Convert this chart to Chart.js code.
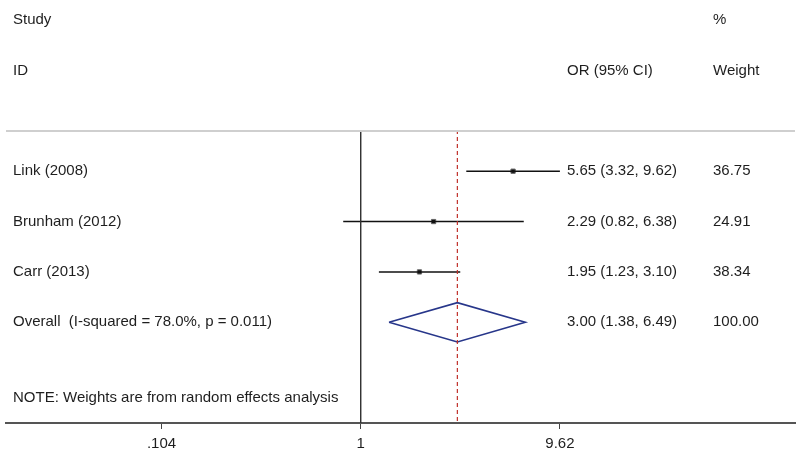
<!DOCTYPE html>
<html>
<head>
<meta charset="utf-8">
<script src="https://cdn.jsdelivr.net/npm/chart.js@4/dist/chart.umd.min.js"></script>
<style>
  html,body{margin:0;padding:0;background:#fff}
  #wrap{width:800px;height:455px;position:relative}
</style>
</head>
<body>
<div id="wrap"><canvas id="c" width="800" height="455"></canvas></div>
<script>
// study data
var studies  = ['Link (2008)', 'Brunham (2012)', 'Carr (2013)'];
var orEst    = [5.65, 2.29, 1.95];
var ciLow    = [3.32, 0.82, 1.23];
var ciHigh   = [9.62, 6.38, 3.10];
var weights  = [36.75, 24.91, 38.34];

var overallLabel = 'Overall  (I-squared = 78.0%, p = 0.011)';
var overallEst = 3.00, overallLow = 1.38, overallHigh = 6.49, overallWeight = 100.00;

var xTicks      = [0.104, 1, 9.62];
var xTickLabels = ['.104', '1', '9.62'];
var noteText = 'NOTE: Weights are from random effects analysis';

var xMin = 0.01777, xMax = 139.1;
var lineRow = 0.2, bottomRow = 6;
var FONT = '"Liberation Sans", Arial, sans-serif';

function fmt(v){ return v.toFixed(2) }

var datasets = [];
// top separator
datasets.push({type:'line', data:[{x:xMin,y:lineRow},{x:xMax,y:lineRow}], borderColor:'#cfcfcf', borderWidth:2, pointRadius:0});
// null line
datasets.push({type:'line', data:[{x:1,y:lineRow},{x:1,y:bottomRow}], borderColor:'#333', borderWidth:1, pointRadius:0});
// overall estimate dashed line
datasets.push({type:'line', data:[{x:overallEst,y:lineRow - 0.02},{x:overallEst,y:bottomRow}], borderColor:'#c0302a', borderWidth:1.2, borderDash:[4,3], pointRadius:0});
// CI lines
studies.forEach(function(s, i){
  datasets.push({type:'line', data:[{x:ciLow[i],y:i+1},{x:ciHigh[i],y:i+1}], borderColor:'#111', borderWidth:1.5, pointRadius:0});
});
// point estimates
datasets.push({type:'scatter', data:orEst.map(function(v,i){ return {x:v,y:i+1} }), pointStyle:'rect', pointRadius:3, backgroundColor:'#111', borderColor:'#666', borderWidth:1});
// overall diamond
var oy = studies.length + 1, dh = 0.39;
datasets.push({type:'line', data:[{x:overallLow,y:oy},{x:overallEst,y:oy-dh},{x:overallHigh,y:oy},{x:overallEst,y:oy+dh},{x:overallLow,y:oy}],
  borderColor:'#27368a', borderWidth:1.6, pointRadius:0, fill:false, tension:0});

var textPlugin = {
  id:'forestText',
  afterDraw: function(chart){
    var ctx = chart.ctx, ys = chart.scales.y;
    ctx.save();
    ctx.font = '15px ' + FONT;
    ctx.fillStyle = '#1e1e1e';
    ctx.textBaseline = 'middle';
    ctx.textAlign = 'left';
    function t(str, x, row){ ctx.fillText(str, x, ys.getPixelForValue(row)) }
    t('Study', 13, -2);
    t('ID', 13, -1);
    t('%', 713, -2);
    t('OR (95% CI)', 567, -1);
    t('Weight', 713, -1);
    studies.forEach(function(s, i){
      t(s, 13, i+1);
      t(fmt(orEst[i]) + ' (' + fmt(ciLow[i]) + ', ' + fmt(ciHigh[i]) + ')', 567, i+1);
      t(fmt(weights[i]), 713, i+1);
    });
    t(overallLabel, 13, oy);
    t(fmt(overallEst) + ' (' + fmt(overallLow) + ', ' + fmt(overallHigh) + ')', 567, oy);
    t(fmt(overallWeight), 713, oy);
    t(noteText, 13, 5.5);
    ctx.restore();
  }
};

new Chart(document.getElementById('c').getContext('2d'), {
  data:{ datasets:datasets },
  options:{
    responsive:false,
    animation:false,
    layout:{ padding:{ left:6, right:3, top:0, bottom:0 } },
    plugins:{ legend:{display:false}, tooltip:{enabled:false} },
    scales:{
      x:{
        type:'logarithmic', min:xMin, max:xMax,
        afterBuildTicks:function(scale){ scale.ticks = xTicks.map(function(v){ return {value:v} }) },
        afterFit:function(scale){ scale.height = 32 },
        grid:{ drawOnChartArea:false, drawTicks:true, tickLength:6, color:'#444' },
        border:{ display:true, color:'#555', width:2 },
        ticks:{ autoSkip:false, maxRotation:0, padding:6, color:'#1e1e1e',
          font:{ family:FONT, size:15 },
          callback:function(v, i){ return xTickLabels[i] } }
      },
      y:{ type:'linear', display:false, reverse:true, min:-2.3, max:bottomRow }
    }
  },
  plugins:[textPlugin]
});
</script>
</body>
</html>
